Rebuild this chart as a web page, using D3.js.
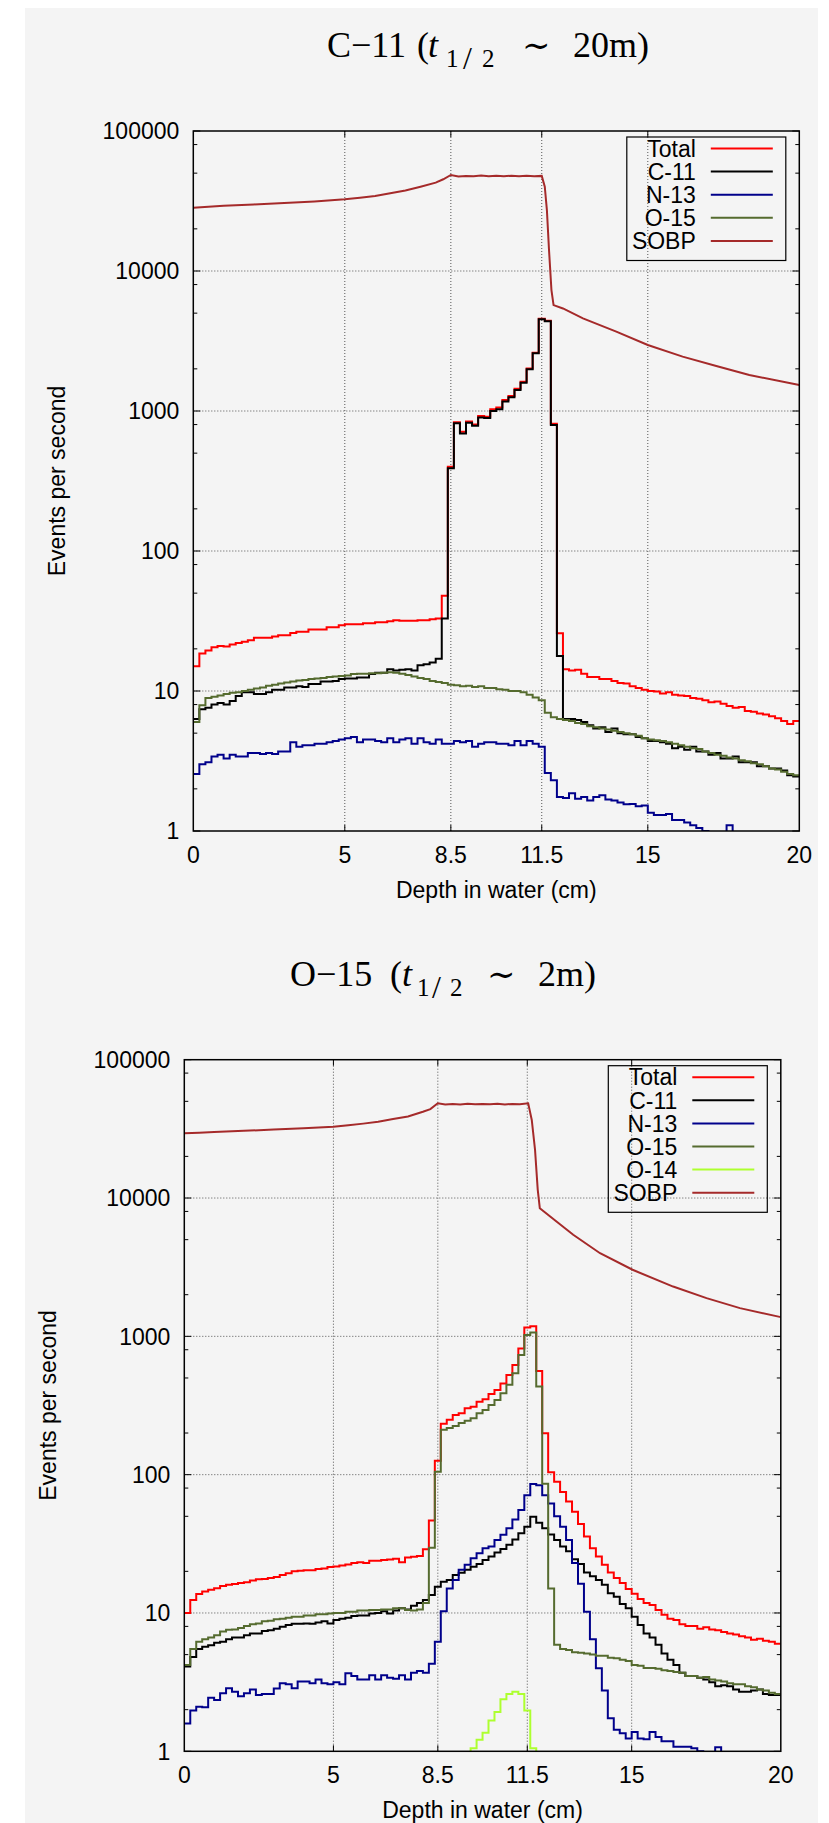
<!DOCTYPE html>
<html>
<head>
<meta charset="utf-8">
<script src="https://cdn.jsdelivr.net/npm/d3@7"></script>
<style>
  body { margin: 0; background: #ffffff; }
  svg { display: block; }
  text { font-family: "Liberation Sans", Arial, sans-serif; fill: #000; }
</style>
</head>
<body>
<svg id="chart" width="829" height="1823"></svg>
<script>
// depth bins are 0.2 cm wide, 100 bins from 0 to 20 cm
var binWidth = 0.2;
var xTickValues = [0, 5, 8.5, 11.5, 15, 20];
var xGridValues = [5, 8.5, 11.5, 15];
var yTickValues = [1, 10, 100, 1000, 10000, 100000];
var yMinorSteps = [2, 5, 8];

// ---- C-11 (t1/2 ~ 20m) ----
var c11Total = [15, 18.5, 19.5, 20.5, 21, 20.8, 21.5, 22, 22.5, 23,
  24, 24, 24, 24.5, 25, 25, 26, 26.5, 26.5, 27.5,
  27.5, 27.5, 28.5, 28.5, 29.5, 30, 30, 30, 30.5, 30.5,
  31, 31, 31.5, 32, 31.8, 31.8, 31.8, 32, 32, 32.5,
  33, 48, 400, 830, 710, 840, 800, 920, 910, 1030,
  1060, 1200, 1280, 1440, 1620, 2010, 2610, 4560, 4410, 810,
  25.8, 14.3, 14.0, 14.2, 13.3, 12.6, 12.6, 12.2, 12.2, 11.8,
  11.4, 11.3, 10.8, 10.5, 10.2, 10.0, 9.9, 9.6, 9.8, 9.4,
  9.3, 9.2, 8.9, 8.8, 8.6, 8.3, 8.4, 8.1, 7.8, 7.6,
  7.7, 7.2, 7.1, 6.9, 6.8, 6.6, 6.4, 6.1, 5.8, 6.1];
var c11C11 = [6.3, 7.4, 7.6, 8.0, 8.2, 8.0, 8.5, 9.2, 9.8, 9.8,
  9.5, 9.5, 9.8, 10.2, 10.2, 10.6, 10.6, 10.8, 10.7, 11.2,
  11.2, 11.7, 11.7, 11.8, 12.2, 12.3, 12.3, 12.5, 12.5, 13.2,
  13.5, 13.5, 14.3, 14.0, 14.2, 14.3, 14.0, 15.3, 15.5, 16.0,
  17.0, 33, 390, 817, 692, 824, 785, 900, 890, 1000,
  1030, 1167, 1253, 1413, 1593, 1984, 2583, 4520, 4370, 794,
  17.8, 6.3, 6.3, 6.2, 6.0, 5.7, 5.4, 5.5, 5.1, 5.4,
  5.0, 4.9, 4.9, 4.7, 4.6, 4.4, 4.4, 4.3, 4.2, 3.9,
  4.0, 3.8, 4.0, 3.7, 3.7, 3.5, 3.6, 3.3, 3.3, 3.4,
  3.1, 3.1, 3.1, 2.9, 2.9, 2.8, 2.8, 2.7, 2.5, 2.45];
var c11N13 = [2.55, 3.0, 3.1, 3.4, 3.5, 3.3, 3.5, 3.4, 3.4, 3.6,
  3.6, 3.55, 3.6, 3.55, 3.7, 3.7, 4.3, 4.0, 4.1, 4.1,
  4.2, 4.2, 4.3, 4.4, 4.5, 4.6, 4.7, 4.3, 4.5, 4.5,
  4.4, 4.3, 4.6, 4.3, 4.5, 4.6, 4.2, 4.6, 4.3, 4.2,
  4.5, 4.2, 4.2, 4.4, 4.3, 4.4, 4.0, 4.2, 4.3, 4.3,
  4.2, 4.2, 4.1, 4.4, 4.1, 4.4, 4.2, 4.0, 2.6, 2.3,
  1.75, 1.72, 1.86, 1.7, 1.75, 1.65, 1.75, 1.8, 1.68, 1.65,
  1.6, 1.55, 1.56, 1.5, 1.52, 1.35, 1.3, 1.3, 1.32, 1.2,
  1.2, 1.15, 1.1, 1.05, 1.0, 0.98, 0.98, 0.98, 1.1, 0.5,
  null, null, null, null, null, null, null, null, null, null];
var c11O15 = [6.0, 7.9, 8.9, 9.1, 9.3, 9.5, 9.7, 9.8, 10.0, 10.2,
  10.4, 10.6, 10.9, 11.1, 11.3, 11.5, 11.7, 11.9, 12.0, 12.2,
  12.3, 12.4, 12.6, 12.7, 12.8, 12.9, 13.2, 13.3, 13.3, 13.4,
  13.4, 13.5, 13.6, 13.5, 13.3, 13.0, 12.7, 12.4, 12.2, 11.8,
  11.6, 11.4, 11.1, 11.0, 10.8, 10.9, 10.7, 10.8, 10.5, 10.5,
  10.3, 10.2, 10.0, 10.0, 9.8, 9.4, 9.0, 8.6, 7.0, 6.5,
  6.3, 6.2, 6.1, 5.9, 5.8, 5.6, 5.5, 5.4, 5.3, 5.2,
  5.1, 5.0, 4.9, 4.8, 4.6, 4.5, 4.45, 4.4, 4.3, 4.2,
  4.1, 4.0, 3.9, 3.85, 3.7, 3.6, 3.5, 3.45, 3.35, 3.3,
  3.2, 3.15, 3.05, 3.0, 2.9, 2.8, 2.75, 2.65, 2.55, 2.5];
var c11SobpDepth = [0, 0.5, 1, 2, 3, 4, 5, 5.5, 6, 6.5, 7, 7.5, 8, 8.25, 8.5, 8.75, 9, 9.25, 9.5, 9.75,
  10, 10.25, 10.5, 10.75, 11, 11.25, 11.5, 11.6, 11.67, 11.74, 11.82, 11.89, 12.2, 12.86, 13.96, 15,
  16.15, 17.26, 18.35, 20];
var c11SobpValue = [28300, 28800, 29200, 29900, 30600, 31400, 32500, 33300, 34300, 35900, 37600, 40000,
  42800, 45200, 48500, 47400, 47800, 47500, 48000, 47600, 47900, 47500, 47900, 47600, 47900, 47500,
  47800, 40000, 27200, 14100, 7310, 5710, 5400, 4590, 3690, 2960, 2445, 2095, 1808, 1535];

// ---- O-15 (t1/2 ~ 2m) ----
var o15Total = [10.0, 12.4, 13.7, 14.3, 14.7, 15.1, 15.7, 16.0, 16.2, 16.5,
  16.7, 17.2, 17.5, 17.6, 17.9, 18.2, 18.8, 19.4, 20.0, 20.2,
  20.4, 20.4, 20.8, 21.0, 21.5, 21.7, 22.0, 22.4, 23.0, 23.3,
  23.0, 23.9, 23.9, 24.2, 24.4, 24.7, 23.3, 25.2, 25.5, 25.8,
  28.9, 46.6, 126, 233, 249, 270, 278, 302, 310, 337,
  351, 383, 409, 457, 525, 620, 817, 1158, 1184, 561,
  199, 104, 89, 75, 64, 54, 44, 35.7, 29.4, 25.6,
  22.3, 19.6, 17.9, 16.5, 14.9, 13.8, 12.6, 11.8, 11.4, 10.5,
  9.7, 9.1, 8.9, 8.3, 8.05, 8.05, 7.7, 7.9, 7.6, 7.5,
  7.3, 7.1, 7.0, 6.8, 6.65, 6.4, 6.5, 6.3, 6.2, 6.0];
var o15C11 = [4.1, 4.8, 5.5, 5.7, 5.85, 6.1, 6.2, 6.45, 6.65, 6.65,
  6.9, 7.1, 7.1, 7.4, 7.5, 7.7, 7.95, 8.2, 8.35, 8.35,
  8.4, 8.35, 8.55, 8.7, 8.4, 8.9, 9.1, 9.25, 9.5, 9.6,
  9.6, 9.9, 10.0, 10.3, 9.9, 10.4, 10.8, 10.6, 11.3, 11.8,
  12.4, 13.5, 15.5, 16.8, 17.3, 18.8, 19.5, 20.5, 21.6, 22.6,
  24.2, 25.6, 27.4, 29.0, 31.2, 34.0, 37.7, 42.0, 49.7, 45.0,
  41.0, 37.0, 33.7, 30.2, 28.0, 24.5, 22.6, 19.6, 18.4, 17.3,
  16.0, 13.9, 13.1, 11.6, 10.8, 9.4, 8.2, 7.1, 6.65, 5.9,
  5.1, 4.6, 4.2, 3.7, 3.5, 3.5, 3.4, 3.3, 3.15, 2.95,
  3.0, 2.95, 2.8, 2.7, 2.7, 2.75, 2.8, 2.6, 2.55, 2.55];
var o15N13 = [1.59, 1.97, 2.1, 2.08, 2.44, 2.35, 2.63, 2.86, 2.7, 2.5,
  2.63, 2.8, 2.55, 2.6, 2.6, 2.85, 3.1, 3.05, 2.86, 3.2,
  3.2, 3.1, 3.3, 3.1, 3.05, 3.15, 3.05, 3.66, 3.5, 3.3,
  3.3, 3.55, 3.3, 3.55, 3.4, 3.35, 3.55, 3.3, 3.7, 3.8,
  3.7, 4.3, 6.2, 10.3, 15.0, 17.3, 20.5, 22.3, 24.9, 27.0,
  29.4, 30.2, 33.7, 36.8, 41.0, 47.5, 55.6, 71.0, 85.7, 84.0,
  71.0, 62.0, 50.0, 42.0, 33.7, 23.0, 16.3, 10.2, 6.45, 3.98,
  2.75, 1.73, 1.43, 1.35, 1.24, 1.38, 1.24, 1.22, 1.38, 1.27,
  1.18, 1.18, 1.08, 1.08, 1.08, 1.05, 1.0, 0.98, 0.98, 1.07,
  0.5, null, null, null, null, null, null, null, null, null];
var o15O15 = [4.2, 5.5, 6.2, 6.45, 6.65, 6.9, 7.35, 7.55, 7.6, 7.8,
  8.05, 8.3, 8.4, 8.7, 8.8, 9.0, 9.1, 9.25, 9.4, 9.4,
  9.6, 9.6, 9.8, 9.8, 9.9, 10.0, 10.0, 10.2, 10.2, 10.4,
  10.4, 10.5, 10.5, 10.6, 10.6, 10.8, 10.8, 10.5, 10.4, 10.6,
  11.8, 29.6, 105, 211, 217, 225, 236, 245, 256, 278,
  294, 319, 347, 388, 446, 541, 734, 1024, 1065, 434,
  86, 15, 5.9, 5.5, 5.4, 5.2, 5.15, 5.1, 5.0, 4.9,
  4.9, 4.75, 4.7, 4.6, 4.5, 4.2, 4.15, 4.0, 4.0, 3.95,
  3.85, 3.8, 3.75, 3.7, 3.5, 3.5, 3.4, 3.45, 3.3, 3.25,
  3.2, 3.1, 3.05, 3.05, 2.95, 2.9, 2.8, 2.75, 2.65, 2.6];
var o15O14 = [null, null, null, null, null, null, null, null, null, null,
  null, null, null, null, null, null, null, null, null, null,
  null, null, null, null, null, null, null, null, null, null,
  null, null, null, null, null, null, null, null, null, null,
  null, null, null, null, null, null, null, 0.5, 1.05, 1.21,
  1.36, 1.67, 1.92, 2.38, 2.6, 2.7, 2.6, 1.97, 1.05, 0.5,
  null, null, null, null, null, null, null, null, null, null,
  null, null, null, null, null, null, null, null, null, null,
  null, null, null, null, null, null, null, null, null, null,
  null, null, null, null, null, null, null, null, null, null];
var o15SobpDepth = [0, 0.5, 1, 2, 3, 4, 5, 5.5, 6, 6.5, 7, 7.5, 8, 8.25, 8.5, 8.75, 9, 9.25, 9.5, 9.75,
  10, 10.25, 10.5, 10.75, 11, 11.25, 11.53, 11.65, 11.76, 11.85, 11.92, 12.5, 13.04, 13.94, 15.03,
  16.39, 17.51, 18.63, 20];
var o15SobpValue = [29400, 29700, 30000, 30600, 31300, 32000, 32800, 33600, 34500, 35600, 37200, 38800,
  42000, 43900, 48400, 47500, 47900, 47500, 48000, 47600, 47900, 47600, 48000, 47500, 47900, 47600,
  48400, 36700, 22300, 11500, 8440, 6700, 5420, 3990, 3030, 2290, 1890, 1600, 1377];

var colors = {
  "Total": "#ff0000", "C-11": "#000000", "N-13": "#00008b",
  "O-15": "#556b2f", "O-14": "#adff2f", "SOBP": "#a52a2a"
};

var svg = d3.select("#chart");

// light grey page panel
svg.append("rect")
  .attr("x", 25).attr("y", 8).attr("width", 793).attr("height", 1815)
  .attr("fill", "#f4f4f4");

function histPoints(values) {
  var pts = values.map(function (v, i) { return [i * binWidth, v]; });
  pts.push([values.length * binWidth, values[values.length - 1]]);
  return pts;
}

// title pieces placed like the typeset formula: isotope ( t_{1/2} ~ time )
function drawTitle(base, pos, isotope, life) {
  var t = svg.append("text")
    .attr("y", base)
    .style("font-family", "'Liberation Serif', 'DejaVu Serif', serif")
    .style("font-size", "36px");
  t.append("tspan").attr("x", pos[0]).text(isotope);
  t.append("tspan").attr("x", pos[1]).text("(");
  t.append("tspan").attr("x", pos[2]).style("font-style", "italic").text("t");
  t.append("tspan").attr("x", pos[3]).attr("y", base + 10).style("font-size", "25px").text("1");
  t.append("tspan").attr("x", pos[4]).attr("y", base + 12).style("font-size", "32px").text("/");
  t.append("tspan").attr("x", pos[5]).attr("y", base + 10).style("font-size", "25px").text("2");
  t.append("tspan").attr("x", pos[6]).attr("y", base)
    .style("font-family", "'DejaVu Serif', serif").style("font-size", "34px").text("\u223C");
  t.append("tspan").attr("x", pos[7]).text(life + ")");
}

function drawPanel(cfg, id) {
  var x = d3.scaleLinear().domain([0, 20]).range([cfg.left, cfg.right]);
  var y = d3.scaleLog().domain([1, 100000]).range([cfg.bottom, cfg.top]);
  var g = svg.append("g");

  g.append("clipPath").attr("id", id)
    .append("rect")
    .attr("x", cfg.left).attr("y", cfg.top)
    .attr("width", cfg.right - cfg.left).attr("height", cfg.bottom - cfg.top);

  // dotted grid
  g.selectAll(".gx").data(xGridValues).enter().append("line")
    .attr("x1", function (d) { return x(d); }).attr("x2", function (d) { return x(d); })
    .attr("y1", cfg.top).attr("y2", cfg.bottom)
    .attr("stroke", "#555").attr("stroke-width", 1).attr("stroke-dasharray", "1,2");
  g.selectAll(".gy").data(yTickValues.slice(1, -1)).enter().append("line")
    .attr("y1", function (d) { return y(d); }).attr("y2", function (d) { return y(d); })
    .attr("x1", cfg.left).attr("x2", cfg.right)
    .attr("stroke", "#555").attr("stroke-width", 1).attr("stroke-dasharray", "1,2");

  // minor and major ticks on both sides
  var minor = [];
  yTickValues.slice(0, -1).forEach(function (d) {
    yMinorSteps.forEach(function (m) { minor.push(d * m); });
  });
  [cfg.left, cfg.right].forEach(function (side, k) {
    var dir = k === 0 ? 1 : -1;
    g.selectAll(null).data(minor).enter().append("line")
      .attr("x1", side).attr("x2", side + dir * 4)
      .attr("y1", function (d) { return y(d); }).attr("y2", function (d) { return y(d); })
      .attr("stroke", "#000").attr("stroke-width", 1);
    g.selectAll(null).data(yTickValues).enter().append("line")
      .attr("x1", side).attr("x2", side + dir * 7)
      .attr("y1", function (d) { return y(d); }).attr("y2", function (d) { return y(d); })
      .attr("stroke", "#000").attr("stroke-width", 1);
  });
  [cfg.bottom, cfg.top].forEach(function (side, k) {
    var dir = k === 0 ? -1 : 1;
    g.selectAll(null).data(xGridValues).enter().append("line")
      .attr("y1", side).attr("y2", side + dir * 6)
      .attr("x1", function (d) { return x(d); }).attr("x2", function (d) { return x(d); })
      .attr("stroke", "#000").attr("stroke-width", 1);
  });

  // series
  var step = d3.line()
    .defined(function (d) { return d[1] != null; })
    .x(function (d) { return x(d[0]); })
    .y(function (d) { return y(d[1]); })
    .curve(d3.curveStepAfter);
  var smooth = d3.line()
    .x(function (d) { return x(d[0]); })
    .y(function (d) { return y(d[1]); });

  var lines = g.append("g").attr("clip-path", "url(#" + id + ")");
  cfg.series.forEach(function (s) {
    lines.append("path")
      .attr("d", step(histPoints(s.values)))
      .attr("fill", "none")
      .attr("stroke", colors[s.name])
      .attr("stroke-width", 2);
  });
  var sobp = cfg.sobpDepth.map(function (d, i) { return [d, cfg.sobpValue[i]]; });
  lines.append("path")
    .attr("d", smooth(sobp))
    .attr("fill", "none")
    .attr("stroke", colors["SOBP"])
    .attr("stroke-width", 2);

  // frame
  g.append("rect")
    .attr("x", cfg.left).attr("y", cfg.top)
    .attr("width", cfg.right - cfg.left).attr("height", cfg.bottom - cfg.top)
    .attr("fill", "none").attr("stroke", "#000").attr("stroke-width", 1.5);

  // tick labels
  g.selectAll(null).data(yTickValues).enter().append("text")
    .attr("x", cfg.left - 14).attr("y", function (d) { return y(d); })
    .attr("dy", "0.36em").attr("text-anchor", "end")
    .style("font-size", "23px")
    .text(function (d) { return d; });
  g.selectAll(null).data(xTickValues).enter().append("text")
    .attr("x", function (d) { return x(d); }).attr("y", cfg.bottom + 32)
    .attr("text-anchor", "middle")
    .style("font-size", "23px")
    .text(function (d) { return d; });

  // axis titles
  g.append("text")
    .attr("x", (cfg.left + cfg.right) / 2).attr("y", cfg.bottom + 67)
    .attr("text-anchor", "middle").style("font-size", "23px")
    .text("Depth in water (cm)");
  g.append("text")
    .attr("transform", "translate(" + (cfg.left - 128) + "," + ((cfg.top + cfg.bottom) / 2) + ") rotate(-90)")
    .attr("text-anchor", "middle").style("font-size", "23px")
    .text("Events per second");

  // legend
  var names = cfg.series.map(function (s) { return s.name; }).concat(["SOBP"]);
  var rowH = 23.1;
  var boxW = 159, boxH = names.length * rowH + 8;
  var bx = cfg.right - 13.5 - boxW, by = cfg.top + 6;
  g.append("rect")
    .attr("x", bx).attr("y", by).attr("width", boxW).attr("height", boxH)
    .attr("fill", "none").attr("stroke", "#000").attr("stroke-width", 1.2);
  names.forEach(function (n, i) {
    var cy = by + 11.5 + i * rowH;
    g.append("text")
      .attr("x", bx + 69).attr("y", cy).attr("dy", "0.36em")
      .attr("text-anchor", "end").style("font-size", "23px")
      .text(n);
    g.append("line")
      .attr("x1", bx + 84).attr("x2", bx + 146)
      .attr("y1", cy).attr("y2", cy)
      .attr("stroke", colors[n]).attr("stroke-width", 2);
  });
}

drawTitle(57, [327, 417, 428, 446, 463, 482, 522, 573], "C\u221211", "20m");
drawPanel({
  left: 193.3, right: 799.3, top: 131, bottom: 831,
  series: [
    { name: "Total", values: c11Total },
    { name: "C-11", values: c11C11 },
    { name: "N-13", values: c11N13 },
    { name: "O-15", values: c11O15 }
  ],
  sobpDepth: c11SobpDepth, sobpValue: c11SobpValue
}, "clipC11");

drawTitle(986, [290, 390, 402, 417, 432, 450, 487, 538], "O\u221215", "2m");
drawPanel({
  left: 184.3, right: 780.8, top: 1059.7, bottom: 1751.3,
  series: [
    { name: "Total", values: o15Total },
    { name: "C-11", values: o15C11 },
    { name: "N-13", values: o15N13 },
    { name: "O-15", values: o15O15 },
    { name: "O-14", values: o15O14 }
  ],
  sobpDepth: o15SobpDepth, sobpValue: o15SobpValue
}, "clipO15");
</script>
</body>
</html>
